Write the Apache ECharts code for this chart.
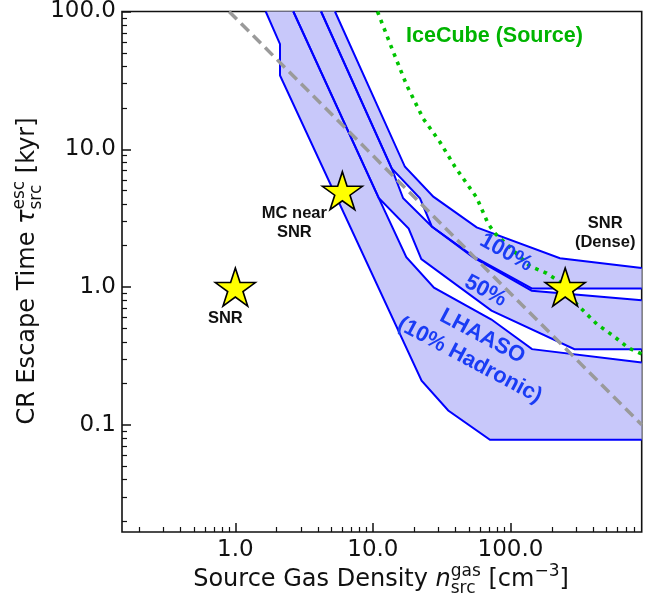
<!DOCTYPE html>
<html>
<head>
<meta charset="utf-8">
<script src="https://cdn.jsdelivr.net/npm/echarts@6/dist/echarts.min.js"></script>
<style>
  html, body { margin: 0; padding: 0; background: #ffffff; }
  #chart { width: 667px; height: 603px; }
</style>
</head>
<body>
<div id="chart"></div>
<script>
// ---- axis ranges and ticks ----
const xRange = [0.15, 900];
const yRange = [1 / 60, 100];
const xMajorTicks = [1, 10, 100];
const xTickLabels = ['1.0', '10.0', '100.0'];
const yMajorTicks = [0.1, 1, 10, 100];
const yTickLabels = ['0.1', '1.0', '10.0', '100.0'];

// ---- LHAASO escape-time constraints: [n_gas, tau_esc] ----
const lhaaso10Lower = [[1.663, 100], [2.113, 58.0], [2.113, 34.3], [22.6, 0.209], [35.3, 0.127], [71.0, 0.0778], [900, 0.0778]];
const lhaaso10Upper = [[2.64, 100], [11.02, 4.44], [17.5, 1.649], [27.8, 0.989], [72.8, 0.581], [143.5, 0.354], [900, 0.283]];
const lhaaso50Lower = [[2.64, 100], [11.02, 4.44], [18.2, 2.66], [22.5, 1.597], [72.8, 0.674], [292, 0.354], [900, 0.354]];
const lhaaso50Upper = [[4.20, 100], [13.7, 7.26], [16.6, 4.41], [26.8, 2.75], [53.7, 1.643], [142.8, 0.941], [900, 0.801]];
const lhaaso100Lower = [[4.20, 100], [13.7, 7.26], [22.0, 4.41], [26.8, 2.75], [53.7, 1.671], [142.8, 0.976], [900, 0.976]];
const lhaaso100Upper = [[5.30, 100], [17.1, 7.46], [27.5, 4.53], [56.8, 2.71], [229, 1.62], [900, 1.375]];

// ---- IceCube source constraint ----
const iceCube = [[10.8, 100], [14.1, 50.6], [17.6, 29.2], [23.3, 16.6], [30.7, 11.3], [39.5, 7.47], [56.8, 4.46],
  [68.7, 2.89], [77.2, 2.45], [94.0, 2.04], [138.8, 1.415], [183.5, 1.259], [242, 1.049], [303, 0.752],
  [424, 0.539], [560, 0.442], [719, 0.362], [900, 0.327]];

// ---- reference scaling line ----
const scalingLine = [[0.9, 100], [900, 0.1]];

// ---- source classes ----
const sourceNames = ['SNR', 'MC near\nSNR', 'SNR\n(Dense)'];
const sourcePoints = [[1, 1], [6, 5], [250, 1.0]];

// ---- in-plot annotations ----
const annotationTexts = ['IceCube (Source)', '100%', '50%', 'LHAASO\n(10% Hadronic)'];
const annotationPoints = [[76.5, 65.8], [93.1, 1.78], [65.8, 0.936], [56.2, 0.359]];

const bands = [
  [lhaaso10Upper, lhaaso10Lower],
  [lhaaso50Upper, lhaaso50Lower],
  [lhaaso100Upper, lhaaso100Lower]
];
const boundaryLines = [lhaaso10Lower, lhaaso10Upper, lhaaso50Lower, lhaaso50Upper, lhaaso100Lower, lhaaso100Upper];

function minorTicks(lo, hi) {
  const out = [];
  for (let e = Math.floor(Math.log10(lo)); e <= Math.ceil(Math.log10(hi)); e++) {
    for (let m = 2; m <= 9; m++) {
      const v = m * Math.pow(10, e);
      if (v > lo && v < hi) out.push(v);
    }
  }
  return out;
}

const BLUE = '#0000ff';
const TEXT_BLUE = '#1a3cf5';
const GREEN = '#00b400';
const FILL = '#c8c8fa';
const INK = '#111111';
const TICK_FONT = 23;
const TITLE_FONT = 24;

// ---- composed axis titles with stacked scripts ----
const measureCtx = document.createElement('canvas').getContext('2d');
function textWidth(t, size, italic) {
  measureCtx.font = (italic ? 'italic ' : '') + size + 'px "DejaVu Sans"';
  return measureCtx.measureText(t).width;
}
function composeTitle(parts, F) {
  const s = Math.round(F * 0.7);
  const els = [];
  let x = 0;
  const mk = (t, px, py, size, italic) => ({
    type: 'text', x: px, y: py, silent: true,
    style: { text: t, fill: INK, font: (italic ? 'italic ' : '') + size + 'px "DejaVu Sans"', align: 'left', verticalAlign: 'middle' }
  });
  parts.forEach(p => {
    if (p.t != null) {
      els.push(mk(p.t, x, 0, F, p.it));
      x += textWidth(p.t, F, p.it);
    } else {
      let w = 0;
      if (p.sup) { els.push(mk(p.sup, x, -0.36 * F, s)); w = Math.max(w, textWidth(p.sup, s)); }
      if (p.sub) { els.push(mk(p.sub, x, 0.36 * F, s)); w = Math.max(w, textWidth(p.sub, s)); }
      x += w;
    }
  });
  els.forEach(e => { e.x -= x / 2; });
  return els;
}

const xTitle = composeTitle([
  { t: 'Source Gas Density ' }, { t: 'n', it: true }, { sup: 'gas', sub: 'src' },
  { t: ' [cm' }, { sup: '\u22123' }, { t: ']' }
], TITLE_FONT);
const yTitle = composeTitle([
  { t: 'CR Escape Time ' }, { t: '\u03c4', it: true }, { sup: 'esc', sub: 'src' }, { t: ' [kyr]' }
], TITLE_FONT);

function axisPair(dim, range, majors, labels, minors, labelMargin) {
  const common = {
    type: 'log', logBase: 10, min: range[0], max: range[1],
    position: dim === 'x' ? 'bottom' : 'left',
    axisLine: { show: false },
    splitLine: { show: false },
    minorTick: { show: false }
  };
  return [
    Object.assign({}, common, {
      axisTick: { show: true, inside: true, length: 9, customValues: majors, lineStyle: { color: INK, width: 1.5 } },
      axisLabel: {
        show: true, customValues: majors, margin: labelMargin,
        fontFamily: 'DejaVu Sans', fontSize: TICK_FONT, color: INK,
        formatter: v => {
          const i = majors.findIndex(m => Math.abs(Math.log10(m) - Math.log10(v)) < 1e-6);
          return i >= 0 ? labels[i] : '';
        }
      }
    }),
    Object.assign({}, common, {
      axisTick: { show: true, inside: true, length: 5, customValues: minors, lineStyle: { color: INK, width: 1.2 } },
      axisLabel: { show: false }
    })
  ];
}

const STAR = 'path://M50,0 L61.23,34.55 L97.55,34.55 L68.16,55.9 L79.39,90.45 L50,69.1 L20.61,90.45 L31.84,55.9 L2.45,34.55 L38.77,34.55 Z';
const starLabelOffsets = [[-10, 31], [-48, 32], [40, -54]];
const annotationStyles = [
  { color: GREEN, fontSize: 21.5, rotate: 0 },
  { color: TEXT_BLUE, fontSize: 22, rotate: -29 },
  { color: TEXT_BLUE, fontSize: 22, rotate: -28 },
  { color: TEXT_BLUE, fontSize: 22, rotate: -28, lineHeight: 27 }
];

const chart = echarts.init(document.getElementById('chart'), null, { renderer: 'canvas' });
chart.setOption({
  animation: false,
  backgroundColor: '#ffffff',
  grid: { left: 122, top: 9, width: 519.7, height: 523, show: true, borderColor: INK, borderWidth: 1.6, backgroundColor: 'transparent', containLabel: false },
  xAxis: axisPair('x', xRange, xMajorTicks, xTickLabels, minorTicks(xRange[0], xRange[1]), 7),
  yAxis: axisPair('y', yRange, yMajorTicks, yTickLabels, minorTicks(yRange[0], yRange[1]), 6),
  graphic: [
    { type: 'group', x: 381, y: 580, children: xTitle },
    { type: 'group', x: 28, y: 271, rotation: Math.PI / 2, children: yTitle }
  ],
  series: [
    {
      type: 'custom', name: 'bands', coordinateSystem: 'cartesian2d', silent: true, z: 1,
      data: bands.map(() => [1, 1]),
      renderItem: (params, api) => {
        const [upper, lower] = bands[params.dataIndex];
        const pts = upper.map(p => api.coord(p)).concat(lower.slice().reverse().map(p => api.coord(p)));
        return { type: 'polygon', shape: { points: pts }, style: { fill: FILL, stroke: null } };
      }
    },
    ...boundaryLines.map((d, i) => ({
      type: 'line', name: 'boundary' + i, data: d, symbol: 'none', silent: true, z: 2,
      lineStyle: { color: BLUE, width: 2, join: 'miter' }
    })),
    {
      type: 'line', name: 'scaling', data: scalingLine, symbol: 'none', silent: true, z: 3,
      lineStyle: { color: '#9a9a9a', width: 3.5, type: [11, 6] }
    },
    {
      type: 'line', name: 'IceCube', data: iceCube, symbol: 'none', silent: true, z: 3,
      lineStyle: { color: '#00c400', width: 3.6, type: [3.6, 5.4], cap: 'butt' }
    },
    {
      type: 'scatter', name: 'sources', silent: true, z: 5,
      symbol: STAR, symbolSize: [40, 38],
      itemStyle: { color: '#ffff00', borderColor: '#000000', borderWidth: 1.6, opacity: 1 },
      data: sourcePoints.map((p, i) => ({
        value: p,
        label: {
          show: true, position: 'inside', offset: starLabelOffsets[i], formatter: sourceNames[i],
          fontFamily: 'Liberation Sans', fontWeight: 'bold', fontSize: 16.5, lineHeight: 19,
          color: '#111111', opacity: 1, align: 'center', verticalAlign: 'middle'
        }
      }))
    },
    {
      type: 'scatter', name: 'annotations', silent: true, z: 6,
      symbol: 'circle', symbolSize: 1, itemStyle: { color: 'transparent', opacity: 1 },
      data: annotationPoints.map((p, i) => ({
        value: p,
        label: {
          show: true, position: 'inside', formatter: annotationTexts[i],
          fontFamily: 'Liberation Sans', fontWeight: 'bold', opacity: 1,
          fontSize: annotationStyles[i].fontSize, color: annotationStyles[i].color,
          rotate: annotationStyles[i].rotate, lineHeight: annotationStyles[i].lineHeight || 24,
          align: 'center', verticalAlign: 'middle'
        }
      }))
    }
  ]
});
</script>
</body>
</html>
